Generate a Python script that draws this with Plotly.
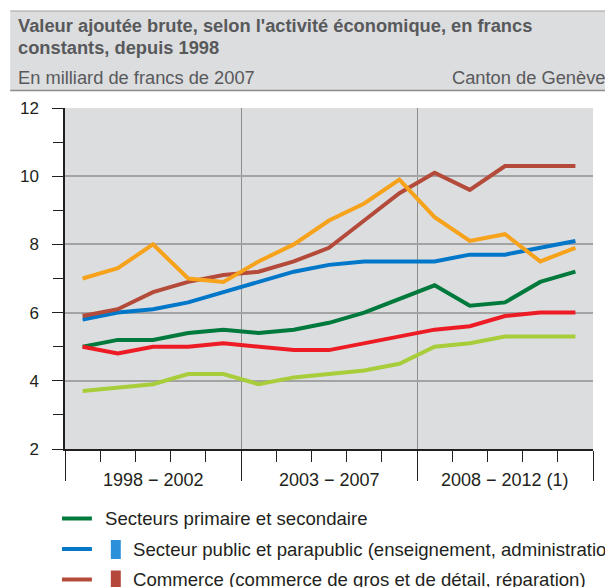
import plotly.graph_objects as go

# ---------------- data ----------------
years = list(range(1998, 2013))
group_labels = ["1998 − 2002", "2003 − 2007", "2008 − 2012 (1)"]
group_centers = [2000, 2005, 2010]
group_bounds = [1997.5, 2002.5, 2007.5, 2012.5]

series_names = [
    "Secteurs primaire et secondaire",
    "Secteur public et parapublic (enseignement, administration, santé)",
    "Commerce (commerce de gros et de détail, réparation)",
    "Activités financières (banques, assurances)",
    "Autres services (immobilier, services aux entreprises)",
    "Transports, communications, hôtellerie et restauration",
]
primaire = [5.0, 5.2, 5.2, 5.4, 5.5, 5.4, 5.5, 5.7, 6.0, 6.4, 6.8, 6.2, 6.3, 6.9, 7.2]
public = [5.8, 6.0, 6.1, 6.3, 6.6, 6.9, 7.2, 7.4, 7.5, 7.5, 7.5, 7.7, 7.7, 7.9, 8.1]
commerce = [5.9, 6.1, 6.6, 6.9, 7.1, 7.2, 7.5, 7.9, 8.7, 9.5, 10.1, 9.6, 10.3, 10.3, 10.3]
finance = [7.0, 7.3, 8.0, 7.0, 6.9, 7.5, 8.0, 8.7, 9.2, 9.9, 8.8, 8.1, 8.3, 7.5, 7.9]
autres = [5.0, 4.8, 5.0, 5.0, 5.1, 5.0, 4.9, 4.9, 5.1, 5.3, 5.5, 5.6, 5.9, 6.0, 6.0]
transports = [3.7, 3.8, 3.9, 4.2, 4.2, 3.9, 4.1, 4.2, 4.3, 4.5, 5.0, 5.1, 5.3, 5.3, 5.3]
series_values = [primaire, public, commerce, finance, autres, transports]

y_ticks = [2, 4, 6, 8, 10, 12]

# ---------------- styles ----------------
colors = ["#007a3c", "#0077c8", "#b34a3a", "#f7a21b", "#ed1c24", "#a8cd3a"]
swatch_colors = [None, "#2b90d9", "#b5473a", "#f7a21b", "#ed1c24", "#a8cd3a"]
FONT = "Liberation Sans, Arial, sans-serif"
BG = "#dcdddf"
TXT = "#231f20"
HDR = "#58595b"

OFF = 8                      # page body margin
WIN_W, WIN_H = 613, 587
W, H = WIN_W - OFF, WIN_H - OFF   # figure size
# plot area in window (screen) pixels
L, R, T, B = 63, 593, 108, 449


def px(x):
    return (x - L) / (R - L)


def py(y):
    return (B - y) / (B - T)


fig = go.Figure()
for name, vals, col in zip(series_names, series_values, colors):
    fig.add_trace(go.Scatter(
        x=years, y=vals, name=name, mode="lines",
        line=dict(color=col, width=4), showlegend=False,
    ))

shapes = []
annotations = []

# header box
shapes.append(dict(type="rect", xref="paper", yref="paper",
                   x0=px(8), x1=px(620), y0=py(90), y1=py(11),
                   fillcolor=BG, line=dict(width=0), layer="below"))
shapes.append(dict(type="line", xref="paper", yref="paper",
                   x0=px(8), x1=px(620), y0=py(11), y1=py(11),
                   line=dict(color="#a0a0a0", width=1)))
shapes.append(dict(type="line", xref="paper", yref="paper",
                   x0=px(8), x1=px(620), y0=py(90.5), y1=py(90.5),
                   line=dict(color="#8c8c8c", width=1.6)))

HSIZE = 18.3
annotations.append(dict(xref="paper", yref="paper", x=px(14), y=py(25),
                        xanchor="left", yanchor="middle", showarrow=False,
                        text="<b>Valeur ajoutée brute, selon l'activité économique, en francs</b>",
                        font=dict(family=FONT, size=HSIZE, color=HDR)))
annotations.append(dict(xref="paper", yref="paper", x=px(14), y=py(48),
                        xanchor="left", yanchor="middle", showarrow=False,
                        text="<b>constants, depuis 1998</b>",
                        font=dict(family=FONT, size=HSIZE, color=HDR)))
annotations.append(dict(xref="paper", yref="paper", x=px(14), y=py(77),
                        xanchor="left", yanchor="middle", showarrow=False,
                        text="En milliard de francs de 2007",
                        font=dict(family=FONT, size=HSIZE, color=HDR)))
annotations.append(dict(xref="paper", yref="paper", x=px(607), y=py(77),
                        xanchor="right", yanchor="middle", showarrow=False,
                        text="Canton de Genève",
                        font=dict(family=FONT, size=HSIZE, color=HDR)))

# group labels under x axis
for lab, cx in zip(group_labels, group_centers):
    annotations.append(dict(xref="x", yref="paper", x=cx, y=py(480),
                            xanchor="center", yanchor="middle", showarrow=False,
                            text=lab, font=dict(family=FONT, size=18, color=TXT)))

# custom legend
row0, row_gap = 518.5, 30.5
for i, (name, col, sw) in enumerate(zip(series_names, colors, swatch_colors)):
    yc = row0 + i * row_gap
    shapes.append(dict(type="line", xref="paper", yref="paper",
                       x0=px(60), x1=px(90), y0=py(yc), y1=py(yc),
                       line=dict(color=col, width=4)))
    tx = 101
    if sw is not None:
        shapes.append(dict(type="rect", xref="paper", yref="paper",
                           x0=px(109), x1=px(119), y0=py(yc + 10), y1=py(yc - 9),
                           fillcolor=sw, line=dict(width=0)))
        tx = 129
    annotations.append(dict(xref="paper", yref="paper", x=px(tx), y=py(yc),
                            xanchor="left", yanchor="middle", showarrow=False,
                            text=name, font=dict(family=FONT, size=18.6, color=TXT)))

fig.update_layout(
    width=W, height=H,
    margin=dict(l=L - OFF, r=W - (R - OFF), t=T - OFF, b=H - (B - OFF), pad=0),
    paper_bgcolor="white", plot_bgcolor=BG,
    font=dict(family=FONT, size=17, color=TXT),
    shapes=shapes, annotations=annotations,
    showlegend=False,
)
fig.update_xaxes(
    range=[1997.5, 2012.5], tickmode="array", tickvals=group_bounds,
    ticktext=["" for _ in group_bounds],
    ticks="outside", ticklen=30, tickwidth=1, tickcolor="#231f20",
    showgrid=True, gridcolor="#8e8e8e", gridwidth=1,
    showline=True, linecolor="#231f20", linewidth=1.5,
    zeroline=False,
    minor=dict(tick0=1997.5, dtick=1, ticks="outside", ticklen=11,
               tickwidth=1, tickcolor="#231f20", showgrid=False),
)
fig.update_yaxes(
    range=[2, 12], tickmode="array", tickvals=y_ticks,
    ticks="outside", ticklen=11, tickwidth=1, tickcolor="#231f20",
    showgrid=True, gridcolor="#a3a3a3", gridwidth=1.5,
    showline=True, linecolor="#231f20", linewidth=1.5,
    zeroline=False, ticklabelstandoff=10,
    tickfont=dict(family=FONT, size=17, color=TXT),
    minor=dict(dtick=1, tick0=2, ticks="outside", ticklen=10,
               tickwidth=1, tickcolor="#231f20", showgrid=False),
)

fig.write_html("out.html")
